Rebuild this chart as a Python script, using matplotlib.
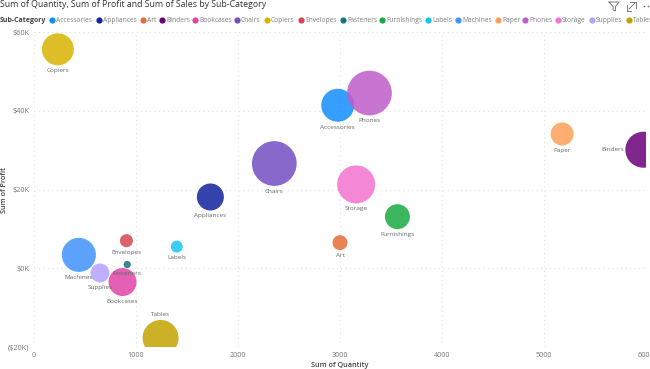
import matplotlib
matplotlib.use('Agg')
import matplotlib.pyplot as plt

plt.rcParams['font.family'] = ['Open Sans', 'DejaVu Sans']

sub_category = ['Accessories', 'Appliances', 'Art', 'Binders', 'Bookcases', 'Chairs', 'Copiers', 'Envelopes',
                'Fasteners', 'Furnishings', 'Labels', 'Machines', 'Paper', 'Phones', 'Storage', 'Supplies', 'Tables']
quantity = [2978, 1729, 3000, 5974, 868, 2356, 234, 906, 914, 3563, 1400, 440, 5178, 3289, 3158, 647, 1241]
profit = [41400, 18100, 6500, 30100, -3500, 26600, 55600, 7000, 950, 13100, 5500, 3400, 34100, 44500, 21300, -1200, -17700]
# sales
sales = [185, 124, 38, 220, 133, 340, 174, 29, 9, 106, 24, 197, 90, 340, 245, 61, 220]
colors = ['#118DFF', '#12239E', '#E66C37', '#6B007B', '#E044A7', '#744EC2', '#D9B300', '#D64550',
          '#197278', '#1AAB40', '#15C6F4', '#4092FF', '#FFA058', '#BE5DC9', '#F472D0', '#B5A1FF', '#C4A200']
x_ticks = [0, 1000, 2000, 3000, 4000, 5000, 6000]
y_ticks = [-20000, 0, 20000, 40000, 60000]
y_labels = ['($20K)', '$0K', '$20K', '$40K', '$60K']

# legend marker x in pixels
legend_x = [52, 99, 143, 162, 195, 237, 267, 301, 343, 382, 428, 458, 498, 525, 558, 592, 629]

fig = plt.figure(figsize=(6.5, 3.69), dpi=100)
ax = fig.add_axes([34 / 650, 1 - 347 / 369, 612 / 650, 315 / 369])
ax.set_xlim(0, 6000)
ax.set_ylim(-20000, 60000)

sizes = [s * 3.05 for s in sales]
ax.scatter(quantity, profit, s=sizes, c=colors, alpha=0.85, linewidths=0, zorder=3)

ax.set_xticks(x_ticks)
ax.set_yticks(y_ticks)
ax.set_yticklabels(y_labels)
ax.tick_params(length=0, labelsize=5.2, labelcolor='#777777', pad=3.5)
ax.grid(True, color='#e2e2e2', linestyle=(0, (1, 3)), linewidth=0.8)
ax.set_axisbelow(True)
for s in ax.spines.values():
    s.set_visible(False)
ax.set_xlabel('Sum of Quantity', fontsize=5.2, color='#444444', fontweight='semibold', labelpad=2.5)

for name, q, p, size in zip(sub_category, quantity, profit, sizes):
    r = size ** 0.5 / 2
    if name == 'Binders':
        ax.annotate(name, (q, p), xytext=(-r - 1, 0), textcoords='offset points', ha='right', va='center',
                    fontsize=4.6, color='#666666', zorder=4)
    elif name == 'Tables':
        ax.annotate(name, (q, p), xytext=(0, r + 2), textcoords='offset points', ha='center', va='bottom',
                    fontsize=4.6, color='#666666', zorder=4)
    else:
        ax.annotate(name, (q, p), xytext=(0, -r - 2), textcoords='offset points', ha='center', va='top',
                    fontsize=4.6, color='#666666', zorder=4)

# title, legend and icons in pixel coordinates
top = fig.add_axes([0, 0, 1, 1])
top.set_xlim(0, 650)
top.set_ylim(369, 0)
top.axis('off')
top.text(0, 4.5, 'Sum of Quantity, Sum of Profit and Sum of Sales by Sub-Category', fontsize=6.3, color='#333333',
         va='center', ha='left')
top.text(5, 190, 'Sum of Profit', fontsize=5.2, color='#444444', fontweight='semibold', rotation=90,
         va='center', ha='center')
top.text(0, 20, 'Sub-Category', fontsize=5, color='#444444', fontweight='bold', va='center', ha='left')
for name, c, lx in zip(sub_category, colors, legend_x):
    top.scatter([lx], [20], s=20, color=c, linewidths=0)
    top.text(lx + 4, 20, name, fontsize=4.8, color='#808080', va='center', ha='left')

# filter, focus mode and more icons
top.plot([609, 619, 615.5, 615.5, 613, 613, 609], [2, 2, 6.5, 11, 10, 6.5, 2], color='#666666', lw=0.6)
top.plot([627, 627, 631], [5, 11, 11], color='#666666', lw=0.6)
top.plot([630, 636, 636], [2, 2, 8], color='#666666', lw=0.6)
top.plot([629, 635], [9, 3], color='#666666', lw=0.6)
top.scatter([644, 648], [6, 6], s=1.2, color='#666666', linewidths=0)

fig.savefig('out.png', dpi=100)
